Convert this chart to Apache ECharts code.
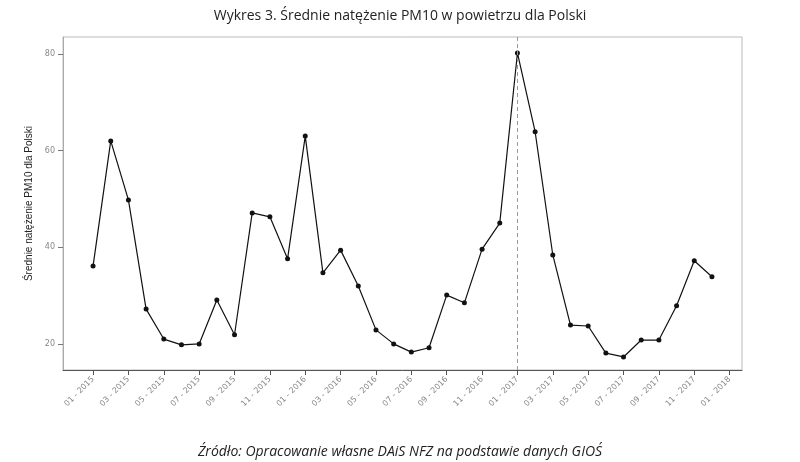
<!DOCTYPE html><html><head><meta charset="utf-8"><script src="https://cdn.jsdelivr.net/npm/echarts@6/dist/echarts.min.js"></script></head><body style="margin:0"><div id="c" style="width:800px;height:462px"></div><script>
const months=['01','02','03','04','05','06','07','08','09','10','11','12'];
const years=['2015','2016','2017','2018'];
const values=[36.1,62,49.8,27.2,21.0,19.8,20,29.1,21.9,47.1,46.3,37.6,63.0,34.7,39.4,32,22.9,20,18.3,19.2,30.1,28.5,39.6,45,80.2,63.9,38.4,23.9,23.7,18.1,17.3,20.8,20.8,27.9,37.2,33.9];
const yTicks=[20,40,60,80];
const xTicks=[];for(let i=0;i<=36;i+=2)xTicks.push(i);
const lbl=i=>months[i%12]+' - '+years[Math.floor(i/12)];
const c=echarts.init(document.getElementById('c'));
c.setOption({animation:false,
title:[{text:'Wykres 3. Średnie natężenie PM10 w powietrzu dla Polski',left:'center',top:4,textStyle:{fontFamily:'Open Sans',fontWeight:'normal',fontSize:14,color:'#222'}},
{text:'Źródło: Opracowanie własne DAiS NFZ na podstawie danych GIOŚ',left:'center',top:440,textStyle:{fontFamily:'Open Sans',fontStyle:'italic',fontWeight:'normal',fontSize:14,color:'#222'}}],
grid:{left:63,right:58,top:37,bottom:92,show:true,borderColor:'#bbb',borderWidth:1},
xAxis:{type:'value',min:-1.7,max:36.7,axisLine:{show:true,onZero:false,lineStyle:{color:'#555'}},splitLine:{show:false},
axisTick:{show:true,customValues:xTicks,lineStyle:{color:'#555'}},
axisLabel:{customValues:xTicks,formatter:v=>lbl(v),rotate:45,fontSize:8,color:'#888',margin:8,fontFamily:'DejaVu Sans'}},
yAxis:{type:'value',min:14.6,max:83.5,name:'Średnie natężenie PM10 dla Polski',nameLocation:'middle',nameGap:20,nameTextStyle:{fontSize:10,color:'#222',fontFamily:'Liberation Sans'},
axisLine:{show:true,onZero:false,lineStyle:{color:'#aaa'}},splitLine:{show:false},
axisTick:{show:true,customValues:yTicks,lineStyle:{color:'#777'}},
axisLabel:{customValues:yTicks,fontSize:8,color:'#888',fontFamily:'DejaVu Sans'}},
series:[{type:'line',data:values.map((v,i)=>[i,v]),symbol:'circle',symbolSize:5,itemStyle:{color:'#111'},lineStyle:{color:'#111',width:1.2},
markLine:{silent:true,symbol:'none',label:{show:false},lineStyle:{type:[4,3],color:'#999',width:1},data:[{xAxis:24}]}}]
});
</script></body></html>
